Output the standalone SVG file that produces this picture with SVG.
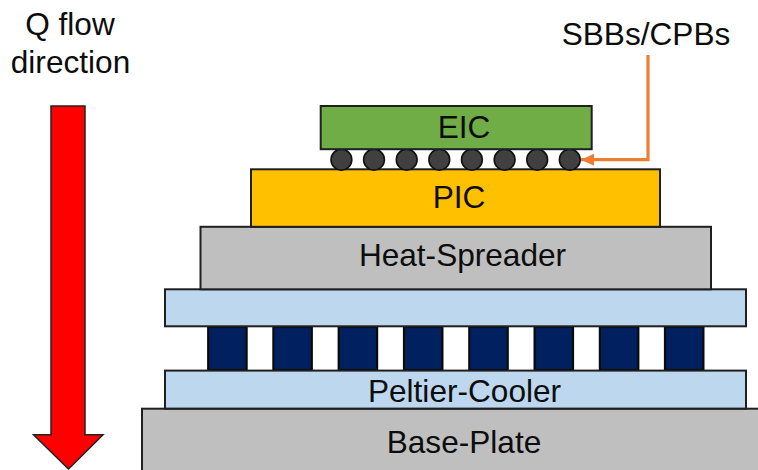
<svg xmlns="http://www.w3.org/2000/svg" width="758" height="470" viewBox="0 0 758 470">
<style>
text{font-family:"Liberation Sans",Arial,sans-serif;font-size:31.6px;fill:#0d0d0d;text-anchor:middle}
.l{stroke:#1f1f1f;stroke-width:2}
.tec{fill:#bdd7ee}
.gray{fill:#bfbfbf}
.leg{fill:#002060;stroke:#0a0a0a;stroke-width:2.2}
.ball{fill:#404040;stroke:#111;stroke-width:1.6}
</style>
<defs>
<marker id="ah" markerUnits="userSpaceOnUse" markerWidth="14" markerHeight="14" refX="13" refY="6" orient="auto"><path d="M0,0L13,6L0,12Z" fill="#ed7d31"/></marker>
</defs>
<rect width="758" height="470" fill="#fff"/>
<g id="q-flow-label"><text x="70" y="35">Q flow</text><text x="70.5" y="73">direction</text></g>
<g id="q-flow-arrow"><path d="M51,106H85V434.7H103L68.5,469L33.5,434.7H51Z" fill="#ff0000" stroke="#222" stroke-width="1.5"/></g>
<g id="base-plate"><rect class="l gray" x="142" y="408.7" width="640" height="80"/><text x="464" y="453">Base-Plate</text></g>
<g id="peltier-legs">
<rect class="leg" x="208.2" y="327" width="38.4" height="43"/>
<rect class="leg" x="273.4" y="327" width="38.4" height="43"/>
<rect class="leg" x="338.7" y="327" width="38.4" height="43"/>
<rect class="leg" x="404" y="327" width="38.4" height="43"/>
<rect class="leg" x="469.3" y="327" width="38.4" height="43"/>
<rect class="leg" x="534.6" y="327" width="38.4" height="43"/>
<rect class="leg" x="599.9" y="327" width="38.4" height="43"/>
<rect class="leg" x="665" y="327" width="38.4" height="43"/>
</g>
<g id="peltier-top"><rect class="l tec" x="165" y="289.3" width="581" height="37"/></g>
<g id="peltier-cooler"><rect class="l tec" x="165" y="370.6" width="581" height="38"/><text x="464.5" y="402">Peltier-Cooler</text></g>
<g id="heat-spreader"><rect class="l gray" x="200.5" y="226.8" width="510.5" height="62.5"/><text x="462.5" y="266">Heat-Spreader</text></g>
<g id="pic"><rect class="l" fill="#ffc000" x="251" y="169.3" width="409" height="57.5"/><text x="459" y="208">PIC</text></g>
<g id="bumps">
<circle class="ball" cx="341.4" cy="159.7" r="10.4"/>
<circle class="ball" cx="374" cy="159.7" r="10.4"/>
<circle class="ball" cx="406.7" cy="159.7" r="10.4"/>
<circle class="ball" cx="439.3" cy="159.7" r="10.4"/>
<circle class="ball" cx="471.9" cy="159.7" r="10.4"/>
<circle class="ball" cx="504.6" cy="159.7" r="10.4"/>
<circle class="ball" cx="537.2" cy="159.7" r="10.4"/>
<circle class="ball" cx="569.8" cy="159.7" r="10.4"/>
</g>
<g id="eic"><rect class="l" fill="#70ad47" x="320.7" y="106" width="271" height="43.2"/><text x="464" y="138">EIC</text></g>
<g id="sbbs-label"><text x="646" y="45">SBBs/CPBs</text></g>
<g id="connectors"><path d="M648,55V159.7H581" fill="none" stroke="#ed7d31" stroke-width="3.2" marker-end="url(#ah)"/></g>
</svg>
